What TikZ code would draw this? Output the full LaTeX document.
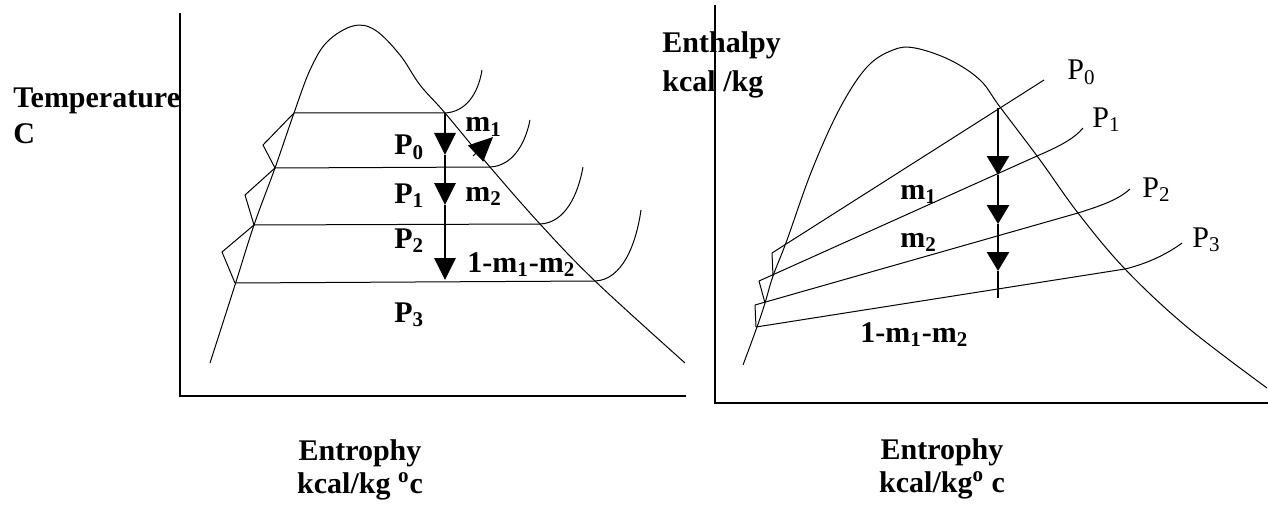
\documentclass[tikz,border=0pt]{standalone}
\usepackage{fontspec}
\setmainfont{Liberation Serif}
\usetikzlibrary{arrows.meta}

\def\xunit{0.5pt}
\def\yunit{-0.5pt}

\tikzset{
  curve/.style={line width=0.5pt},
  axis/.style={line width=0.8pt},
  flowL/.style={line width=1.4pt, -{Triangle[length=11pt,width=10.5pt]}},
  flowR/.style={line width=1.4pt, -{Triangle[length=9.5pt,width=11pt]}},
  lab/.style={font=\fontsize{15}{18}\selectfont\bfseries, inner sep=0pt, anchor=base west},
  plab/.style={font=\fontsize{15}{18}\selectfont, inner sep=0pt, anchor=base west},
}

\begin{document}
\begin{tikzpicture}[x=\xunit, y=\yunit]
\useasboundingbox (0,0) rectangle (1268,508);

% ---- T-s diagram: axes (180,13) -- (180,396) -- (686,396) ----
\draw[axis] (180,13) -- (180,396) -- (686,396);
\node[lab] (tlabel) at (13,108) {Temperature};
\node[lab] (tunit) at (13,143) {C};
\node[lab, anchor=base] (slabelL) at (360,460) {Entrophy};
\node[lab, anchor=base] (sunitL) at (360,493) {kcal/kg \textsuperscript{o}c};

% saturation dome
\draw[curve] plot[smooth, tension=0.6] coordinates {(210,363) (235,285) (254,225)
  (275,168) (294,113) (310,70) (327,42) (353,26) (375,30) (400,55) (420,85)
  (445,113) (490,167) (540,224) (595,281) (685,363)};

% isobars P0..P3 (left end a, dome crossing b)
\coordinate (a0) at (294,113); \coordinate (b0) at (445,113);
\coordinate (a1) at (275,168); \coordinate (b1) at (490,167);
\coordinate (a2) at (254,225); \coordinate (b2) at (540,224);
\coordinate (a3) at (235,283); \coordinate (b3) at (595,281);
\draw[curve] (a0) -- (b0) .. controls (465,112) and (478,95) .. (482,70);
\draw[curve] (a1) -- (b1) .. controls (512,166) and (525,145) .. (530,120);
\draw[curve] (a2) -- (b2) .. controls (565,223) and (578,195) .. (583,167);
\draw[curve] (a3) -- (b3) .. controls (622,280) and (636,245) .. (641,210);

% feed pump legs
\draw[curve] (a0) -- (263,145) -- (a1) -- (245,195) -- (a2) -- (222,252) -- (a3);

% expansion with bleeds
\draw[flowL] (b0) -- (445,155);
\draw[flowL] (445,155) -- (445,205);
\draw[flowL] (445,205) -- (445,280);
\draw[curve, -{Triangle[length=12pt,width=11pt]}] (473,156) -- (493,137);

\node[lab] (p0L) at (394,155) {P\textsubscript{0}};
\node[lab] (p1L) at (394,203) {P\textsubscript{1}};
\node[lab] (p2L) at (394,248) {P\textsubscript{2}};
\node[lab] (p3L) at (394,322) {P\textsubscript{3}};
\node[lab] (m1L) at (465,132) {m\textsubscript{1}};
\node[lab] (m2L) at (465,201) {m\textsubscript{2}};
\node[lab] (m3L) at (467,272) {1-m\textsubscript{1}-m\textsubscript{2}};

% ---- h-s diagram: axes (715,5) -- (715,403) -- (1268,403) ----
\draw[axis] (715,5) -- (715,403) -- (1268,403);
\node[lab] (hlabel) at (662,53) {Enthalpy};
\node[lab] (hunit) at (662,91) {kcal /kg};
\node[lab, anchor=base] (slabelR) at (942,459) {Entrophy};
\node[lab, anchor=base] (sunitR) at (942,492) {kcal/kg\textsuperscript{o} c};

% saturation dome
\draw[curve] plot[smooth, tension=0.6] coordinates {(743,365) (757,327) (765,303)
  (773,276) (787,240) (812,170) (840,108) (867,67) (893,50) (915,48) (950,60)
  (980,80) (1000,107) (1040,160) (1078,213) (1125,269) (1187,327) (1267,388)};

% isobars P0..P3
\coordinate (c0) at (772,253); \coordinate (d0) at (1000,108);
\coordinate (c1) at (759,281); \coordinate (d1) at (1037,156);
\coordinate (c2) at (755,305); \coordinate (d2) at (1078,213);
\coordinate (c3) at (756,327); \coordinate (d3) at (1125,269);
\draw[curve] (c0) -- (d0) -- (1044,80);
\draw[curve] (c1) -- (d1) .. controls (1058,147) and (1074,139) .. (1083,128);
\draw[curve] (c2) -- (d2) .. controls (1100,206) and (1118,200) .. (1130,189);
\draw[curve] (c3) -- (d3) .. controls (1150,263) and (1170,252) .. (1182,243);

% feed pump legs
\draw[curve] (c3) -- (c2);
\draw[curve] (765,303) -- (c1);
\draw[curve] (773,276) -- (c0);

% expansion with bleeds
\draw[flowR] (998,108) -- (998,175);
\draw[flowR] (998,175) -- (998,224);
\draw[flowR] (998,224) -- (998,271);
\draw[line width=1.4pt] (998,271) -- (998,298);

\node[plab] (p0R) at (1067,80) {P\textsubscript{0}};
\node[plab] (p1R) at (1092,127) {P\textsubscript{1}};
\node[plab] (p2R) at (1142,197) {P\textsubscript{2}};
\node[plab] (p3R) at (1192,247) {P\textsubscript{3}};
\node[lab] (m1R) at (900,199) {m\textsubscript{1}};
\node[lab] (m2R) at (900,247) {m\textsubscript{2}};
\node[lab] (m3R) at (860,342) {1-m\textsubscript{1}-m\textsubscript{2}};

\end{tikzpicture}
\end{document}
